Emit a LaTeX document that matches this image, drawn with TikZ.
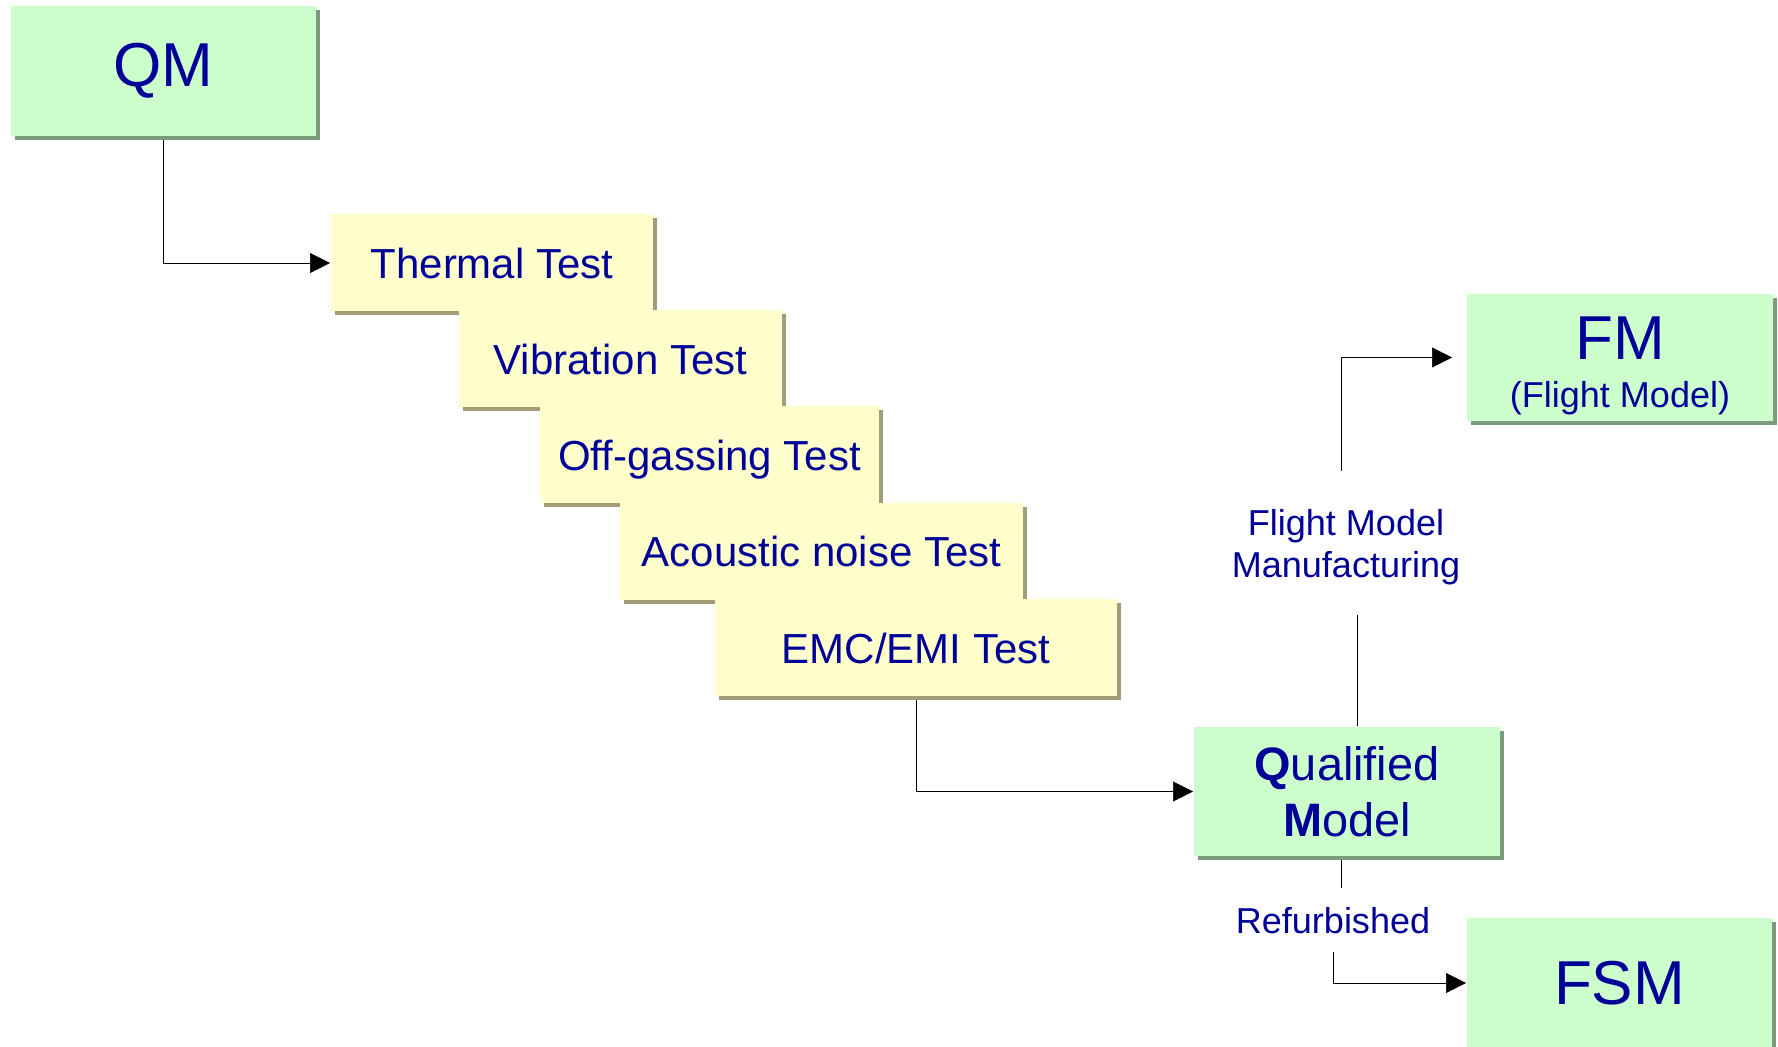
\documentclass[tikz,border=0pt]{standalone}
\usepackage{fontspec}
\setmainfont{Liberation Sans}
\usepackage{xcolor}
\usepackage{tikz}
\definecolor{mint1} {RGB} {204, 255, 204}
\definecolor{mint6} {RGB} {125, 155, 125}
\definecolor{cream1} {RGB} {255, 255, 204}
\definecolor{cream6} {RGB} {160, 157, 120}
\definecolor{navy1} {RGB} {0, 0, 153}
\usetikzlibrary{arrows.meta}
\usetikzlibrary{shadows}
\usetikzlibrary{calc,backgrounds}
\tikzstyle{qmflow}=[
  >={Triangle[length=0.4cm, width=0.4cm]}, line width=0.04cm, text=navy1,
  font=\fontsize{23.9}{28}\selectfont
]
\tikzstyle{greenbox}=[
  inner sep=0pt, fill=mint1, minimum width=6.1cm, minimum height=2.6cm,
  drop shadow={shadow xshift=0.08cm, shadow yshift=-0.08cm, fill=mint6, opacity=1}
]
\tikzstyle{testbox}=[
  inner sep=0pt, fill=cream1, minimum height=1.94cm, text depth=0pt,
  drop shadow={shadow xshift=0.08cm, shadow yshift=-0.08cm, fill=cream6, opacity=1}
]
\tikzstyle{bigtext}=[
  inner sep=0pt, font=\fontsize{35.3}{42}\selectfont
]
\tikzstyle{labeltext}=[
  inner sep=0pt, font=\fontsize{20.5}{23.9}\selectfont
]

\begin{document}
\begin{tikzpicture}[qmflow]
\useasboundingbox (0,0) rectangle (35.56,-20.94);
\node (qm) [greenbox, bigtext] at (3.27, -1.42) {QM};

\node (thermal) [testbox, minimum width=6.44cm] at (9.84, -5.26) {Thermal Test};
\node (vibration) [testbox, minimum width=6.46cm] at ($(thermal) + (2.57, -1.92)$) {Vibration Test};
\node (offgas) [testbox, minimum width=6.78cm] at ($(vibration) + (1.78, -1.92)$) {Off-gassing Test};
\node (acoustic) [testbox, minimum width=8.06cm] at ($(offgas) + (2.24, -1.93)$) {Acoustic noise Test};
\node (emc) [testbox, minimum width=8.04cm] at ($(acoustic) + (1.89, -1.93)$) {EMC/EMI Test};

\node (qmodel) [greenbox, minimum width=6.12cm, minimum height=2.58cm, align=center,
  font=\fontsize{26.7}{31.9}\selectfont] at (26.94, -15.83) {\textbf{Q}ualified\\\textbf{M}odel};

\node (fm) [greenbox, minimum width=6.12cm, minimum height=2.54cm] at (32.40, -7.15) {};
\node (fmname) [bigtext] at ($(fm) + (0.0, 0.39)$) {FM};
\node (fmsub) [labeltext, anchor=base] at ($(fm) + (0.0, -1.01)$) {(Flight Model)};

\node (fsm) [greenbox, bigtext, minimum width=6.1cm, minimum height=2.6cm] at (32.39, -19.66) {FSM};

\node (fmmlabel) [labeltext, align=center] at (26.92, -10.94) {Flight Model\\Manufacturing};
\node (reflabel) [labeltext, anchor=base] at (26.66, -18.66) {Refurbished};

\coordinate (fmmtop) at ($(qmodel.north) + (0.2, 2.22)$);
\coordinate (fmmbot) at ($(fmmlabel) + (-0.1, 1.52)$);
\coordinate (reftop) at ($(qmodel.south) + (-0.12, -0.62)$);
\coordinate (refbot) at ($(reflabel.base) + (0.0, -0.38)$);

\begin{scope}[on background layer]
\draw [->] (qm) |- (thermal);
\draw [->] (emc) |- (qmodel);
\draw ([xshift=0.2cm]qmodel.north) -- (fmmtop);
\draw [->] (fmmbot) |- ([xshift=-0.28cm]fm.west);
\draw ([xshift=-0.12cm]qmodel.south) -- (reftop);
\draw [->] (refbot) |- (fsm);
\end{scope}
\end{tikzpicture}
\end{document}
